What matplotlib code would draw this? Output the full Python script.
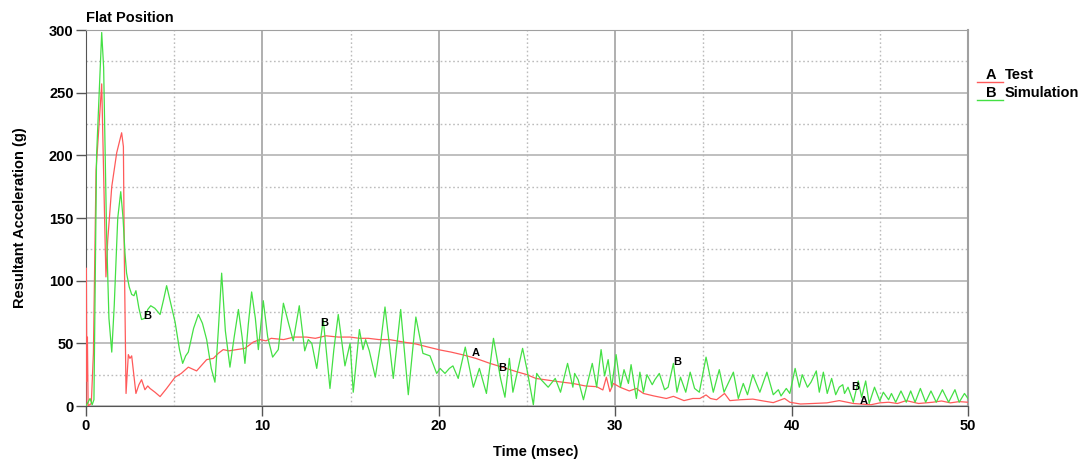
import matplotlib
matplotlib.use("Agg")
import matplotlib.pyplot as plt
from matplotlib.lines import Line2D

plt.rcParams['font.family'] = ['Liberation Sans', 'DejaVu Sans']

title = "Flat Position"
x_label = "Time (msec)"
y_label = "Resultant Acceleration (g)"
legend_letters = ["A", "B"]
legend_names = ["Test", "Simulation"]

sim_t = [0, 0.23, 0.35, 0.45, 0.6, 0.89, 1.0, 1.17, 1.3, 1.46, 1.6, 1.8, 1.97, 2.1, 2.21, 2.3,
         2.45, 2.59, 2.72, 2.83, 3.0, 3.15, 3.34, 3.5, 3.67, 3.9, 4.2, 4.4, 4.57, 4.8, 5.05,
         5.3, 5.48, 5.65, 5.8, 6.1, 6.37, 6.6, 6.84, 7.1, 7.31, 7.5, 7.69, 7.9, 8.16, 8.4,
         8.64, 8.85, 9.01, 9.2, 9.39, 9.6, 9.77, 10.05, 10.3, 10.58, 10.9, 11.19, 11.5, 11.75,
         12.09, 12.4, 12.6, 12.8, 13.08, 13.45, 13.83, 14.05, 14.3, 14.68, 14.97, 15.15, 15.5,
         15.7, 15.85, 16.06, 16.4, 16.7, 16.95, 17.42, 17.84, 18.27, 18.7, 19.1, 19.5, 19.88,
         20.07, 20.35, 20.6, 20.8, 21.1, 21.5, 21.96, 22.3, 22.7, 23.1, 23.5, 23.75, 24.0,
         24.2, 24.75, 25.0, 25.36, 25.55, 25.8, 26.2, 26.6, 26.9, 27.3, 27.6, 27.7, 27.9, 28.2,
         28.7, 28.95, 29.2, 29.4, 29.6, 29.8, 30.05, 30.3, 30.5, 30.75, 30.9, 31.2, 31.4, 31.6,
         31.8, 32.1, 32.25, 32.5, 32.8, 33.0, 33.3, 33.5, 33.7, 34.0, 34.25, 34.5, 34.77, 35.15,
         35.56, 35.9, 36.17, 36.7, 36.98, 37.26, 37.5, 37.8, 38.2, 38.6, 38.96, 39.25, 39.4,
         39.7, 39.9, 40.2, 40.44, 40.6, 40.9, 41.1, 41.4, 41.57, 41.8, 42.02, 42.27, 42.5, 42.7,
         42.9, 43.0, 43.2, 43.5, 43.78, 43.97, 44.2, 44.4, 44.7, 45.0, 45.2, 45.5, 45.66, 45.9,
         46.2, 46.5, 46.75, 47.0, 47.3, 47.6, 47.9, 48.2, 48.55, 48.9, 49.26, 49.5, 49.8, 50.0]
sim_g = [0, 6, 1, 5, 200, 298, 270, 135, 70, 43, 80, 150, 171, 150, 122, 106,
         95, 89, 88, 92, 78, 69, 70, 77, 80, 78, 73, 85, 96, 82, 67,
         45, 34, 40, 43, 62, 73, 66, 53, 30, 19, 60, 106, 60, 31, 55,
         77, 55, 34, 65, 91, 70, 45, 84, 55, 39, 45, 82, 65, 52,
         80, 44, 53, 50, 30, 69, 14, 45, 73, 32, 50, 11, 61,
         45, 53, 44, 23, 50, 79, 22, 77, 9, 71, 42, 40, 26,
         30, 26, 30, 32, 22, 47, 15, 30, 10, 54, 22, 7, 38,
         11, 46, 29, 1, 26, 21, 15, 22, 11, 34, 15, 26, 21, 5,
         34, 15, 45, 24, 37, 15, 41, 15, 29, 18, 33, 6, 27, 11,
         25, 17, 21, 26, 13, 15, 34, 11, 23, 11, 27, 14, 11, 39,
         11, 29, 11, 27, 6, 18, 9, 25, 11, 27, 9, 13, 8,
         14, 10, 30, 15, 25, 15, 19, 28, 11, 27, 10, 22, 9, 15,
         17, 10, 15, 3, 20, 7, 20, 2, 15, 4, 11, 5, 10, 3,
         12, 3, 12, 3, 14, 3, 12, 3, 13, 3, 13, 3, 10, 6]

test_t = [0, 0.02, 0.05, 0.08, 0.12, 0.3, 0.42, 0.57, 0.89, 1.04, 1.13, 1.23, 1.46, 1.74, 2.02,
          2.12, 2.17, 2.27, 2.4, 2.49, 2.59, 2.83, 3.0, 3.15, 3.34, 3.5, 3.63, 3.91, 4.2, 4.57,
          5.05, 5.4, 5.8, 6.27, 6.46, 6.84, 7.22, 7.5, 7.78, 8.1, 8.54, 9.01, 9.48, 9.86, 10.2,
          10.5, 11.2, 11.8, 12.5, 13.0, 13.6, 14.3, 14.97, 15.5, 16.0, 16.6, 17.2, 18.0, 18.7,
          19.4, 20.07, 20.7, 21.4, 22.1, 22.9, 23.6, 24.4, 25.0, 25.5, 26.0, 26.5, 27.0, 27.6,
          28.3, 28.95, 29.3, 29.5, 29.7, 29.9, 30.27, 30.8, 31.2, 31.6, 32.2, 32.9, 33.3, 33.9,
          34.4, 34.8, 35.15, 35.4, 35.75, 36.2, 36.5, 37.1, 37.8, 38.4, 38.96, 39.6, 39.9, 40.5,
          41.2, 42.0, 42.7, 43.5, 44.5, 45.0, 45.5, 46.0, 46.5, 47.2, 48.0, 48.5, 49.0, 49.5, 50]
test_g = [0, 110, 20, 55, 0, 2, 42, 188, 257, 159, 103, 132, 175, 202, 218,
          207, 122, 10, 41, 38, 40, 10, 17, 21, 13, 16, 14, 11, 7.5, 14,
          23, 26, 31, 28, 31, 37, 38, 42, 45, 44, 45, 46, 51, 53, 52,
          54, 53, 55, 55, 54, 56, 55, 55, 54, 54, 53, 53, 51, 49.5,
          47, 44.7, 43, 40.7, 38, 34, 31, 27.4, 25, 22, 21, 20, 19, 18,
          16, 15.4, 12.8, 23, 11.5, 18, 15, 12, 14, 10, 8, 6, 7.7, 4.3,
          6, 6, 8.8, 6, 5, 10, 4.3, 5, 5.5, 4, 2.7, 6, 3, 1.6,
          2, 2.5, 4.3, 2, 1, 2.5, 3, 2, 4.3, 2, 3, 4, 2.5, 3.5, 3]

curve_label_text = ["B", "B", "A", "B", "B", "B", "A"]
curve_label_t = [3.5, 13.5, 22.1, 23.6, 33.5, 43.6, 44.1]
curve_label_g = [72, 66, 42, 30, 35, 15, 4]

red = '#FF5A5A'
green = '#44E044'

fig = plt.figure(figsize=(10.78, 4.59), dpi=100)
ax = fig.add_axes([86/1078, 1 - 406/459, (968-86)/1078, (406-30)/459])

ax.plot(test_t, test_g, color=red, lw=0.9, zorder=3)
ax.plot(sim_t, sim_g, color=green, lw=0.9, zorder=4)

for s, t, g in zip(curve_label_text, curve_label_t, curve_label_g):
    ax.text(t, g, s, fontsize=8, fontweight='bold', ha='center', va='center', zorder=5)

ax.set_xlim(0, 50)
ax.set_ylim(0, 300)
ax.set_xticks([0, 10, 20, 30, 40, 50])
ax.set_yticks([0, 50, 100, 150, 200, 250, 300])
ax.set_xticks([5, 15, 25, 35, 45], minor=True)
ax.set_yticks([25, 75, 125, 175, 225, 275], minor=True)
ax.tick_params(which='major', direction='out', length=7, width=1, color='#555555',
               labelsize=10.5, pad=2)
ax.tick_params(which='minor', length=0)
for lab in ax.get_xticklabels() + ax.get_yticklabels():
    lab.set_fontweight('bold')

ax.grid(which='major', axis='x', color='#9a9a9a', lw=1.1, ls='-', zorder=1)
ax.grid(which='major', axis='y', color='#b4b4b4', lw=1.2, ls='-', zorder=1)
ax.grid(which='minor', color='#bcbcbc', lw=1.0, ls=(0, (1.2, 1.8)), zorder=1)
ax.set_axisbelow(True)

ax.spines['left'].set_color('#555555')
ax.spines['bottom'].set_color('#555555')
ax.spines['top'].set_color('#a0a0a0')
ax.spines['right'].set_color('#a0a0a0')
ax.spines['right'].set_linewidth(1.5)

ax.set_xlabel(x_label, fontsize=10.5, fontweight='bold', labelpad=10)
ax.xaxis.set_label_coords(0.51, -0.105)
ax.set_ylabel(y_label, fontsize=10.5, fontweight='bold')
ax.yaxis.set_label_coords(-0.067, 0.5)
fig.text(86/1078, 1 - 18/459, title, fontsize=10.5, fontweight='bold', ha='left', va='center')

# legend
leg_y = [75, 93]
leg_col = [red, green]
for letter, name, y, c in zip(legend_letters, legend_names, leg_y, leg_col):
    fig.text(991/1078, 1 - y/459, letter, fontsize=10.5, fontweight='bold', ha='center', va='center')
    fig.text(1005/1078, 1 - y/459, name, fontsize=10.5, fontweight='bold', ha='left', va='center')
    fig.add_artist(Line2D([977/1078, 1003/1078], [1 - (y + 6.5)/459] * 2, color=c, lw=1.0))

fig.savefig("out.png", dpi=100)
